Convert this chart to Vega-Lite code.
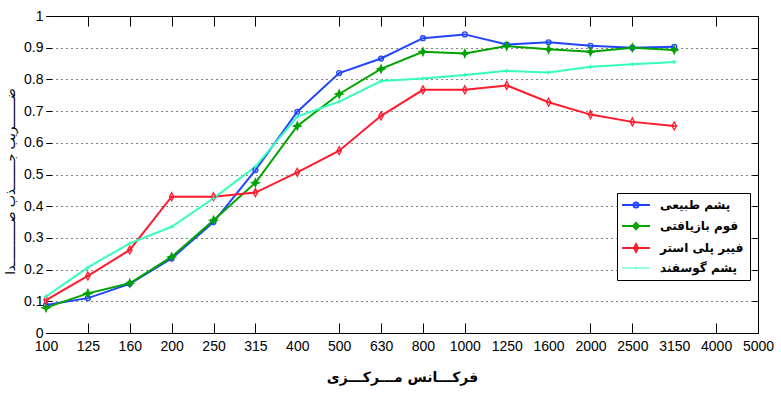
{
  "$schema": "https://vega.github.io/schema/vega-lite/v6.json",
  "width": 712,
  "height": 317,
  "autosize": "none",
  "padding": {"left": 46, "top": 16, "right": 23, "bottom": 64},
  "background": "white",
  "config": {
    "view": {"stroke": null},
    "axis": {"domainColor": "black", "tickColor": "black", "labelColor": "black", "titleColor": "black", "labelFont": "Liberation Sans Narrow, Liberation Sans, sans-serif", "labelFontSize": 14}
  },
  "data": {
    "values": [
      {"f": "100", "s": "پشم طبیعی", "v": 0.088},
      {"f": "125", "s": "پشم طبیعی", "v": 0.11},
      {"f": "160", "s": "پشم طبیعی", "v": 0.155},
      {"f": "200", "s": "پشم طبیعی", "v": 0.235},
      {"f": "250", "s": "پشم طبیعی", "v": 0.35},
      {"f": "315", "s": "پشم طبیعی", "v": 0.514},
      {"f": "400", "s": "پشم طبیعی", "v": 0.698},
      {"f": "500", "s": "پشم طبیعی", "v": 0.82},
      {"f": "630", "s": "پشم طبیعی", "v": 0.866},
      {"f": "800", "s": "پشم طبیعی", "v": 0.93},
      {"f": "1000", "s": "پشم طبیعی", "v": 0.942},
      {"f": "1250", "s": "پشم طبیعی", "v": 0.91},
      {"f": "1600", "s": "پشم طبیعی", "v": 0.917},
      {"f": "2000", "s": "پشم طبیعی", "v": 0.906},
      {"f": "2500", "s": "پشم طبیعی", "v": 0.9},
      {"f": "3150", "s": "پشم طبیعی", "v": 0.903},
      {"f": "100", "s": "فوم بازیافتی", "v": 0.08},
      {"f": "125", "s": "فوم بازیافتی", "v": 0.125},
      {"f": "160", "s": "فوم بازیافتی", "v": 0.157},
      {"f": "200", "s": "فوم بازیافتی", "v": 0.24},
      {"f": "250", "s": "فوم بازیافتی", "v": 0.356},
      {"f": "315", "s": "فوم بازیافتی", "v": 0.474},
      {"f": "400", "s": "فوم بازیافتی", "v": 0.653},
      {"f": "500", "s": "فوم بازیافتی", "v": 0.754},
      {"f": "630", "s": "فوم بازیافتی", "v": 0.833},
      {"f": "800", "s": "فوم بازیافتی", "v": 0.887},
      {"f": "1000", "s": "فوم بازیافتی", "v": 0.882},
      {"f": "1250", "s": "فوم بازیافتی", "v": 0.905},
      {"f": "1600", "s": "فوم بازیافتی", "v": 0.895},
      {"f": "2000", "s": "فوم بازیافتی", "v": 0.887},
      {"f": "2500", "s": "فوم بازیافتی", "v": 0.9},
      {"f": "3150", "s": "فوم بازیافتی", "v": 0.893},
      {"f": "100", "s": "فیبر پلی استر", "v": 0.104},
      {"f": "125", "s": "فیبر پلی استر", "v": 0.18},
      {"f": "160", "s": "فیبر پلی استر", "v": 0.262},
      {"f": "200", "s": "فیبر پلی استر", "v": 0.43},
      {"f": "250", "s": "فیبر پلی استر", "v": 0.43},
      {"f": "315", "s": "فیبر پلی استر", "v": 0.443},
      {"f": "400", "s": "فیبر پلی استر", "v": 0.507},
      {"f": "500", "s": "فیبر پلی استر", "v": 0.575},
      {"f": "630", "s": "فیبر پلی استر", "v": 0.685},
      {"f": "800", "s": "فیبر پلی استر", "v": 0.767},
      {"f": "1000", "s": "فیبر پلی استر", "v": 0.767},
      {"f": "1250", "s": "فیبر پلی استر", "v": 0.781},
      {"f": "1600", "s": "فیبر پلی استر", "v": 0.728},
      {"f": "2000", "s": "فیبر پلی استر", "v": 0.689},
      {"f": "2500", "s": "فیبر پلی استر", "v": 0.666},
      {"f": "3150", "s": "فیبر پلی استر", "v": 0.653},
      {"f": "100", "s": "پشم گوسفند", "v": 0.115},
      {"f": "125", "s": "پشم گوسفند", "v": 0.207},
      {"f": "160", "s": "پشم گوسفند", "v": 0.283},
      {"f": "200", "s": "پشم گوسفند", "v": 0.335},
      {"f": "250", "s": "پشم گوسفند", "v": 0.425},
      {"f": "315", "s": "پشم گوسفند", "v": 0.525},
      {"f": "400", "s": "پشم گوسفند", "v": 0.683},
      {"f": "500", "s": "پشم گوسفند", "v": 0.73},
      {"f": "630", "s": "پشم گوسفند", "v": 0.795},
      {"f": "800", "s": "پشم گوسفند", "v": 0.803},
      {"f": "1000", "s": "پشم گوسفند", "v": 0.814},
      {"f": "1250", "s": "پشم گوسفند", "v": 0.827},
      {"f": "1600", "s": "پشم گوسفند", "v": 0.822},
      {"f": "2000", "s": "پشم گوسفند", "v": 0.84},
      {"f": "2500", "s": "پشم گوسفند", "v": 0.848},
      {"f": "3150", "s": "پشم گوسفند", "v": 0.855}
    ]
  },
  "layer": [
    {
      "mark": {"type": "line", "strokeWidth": 2},
      "encoding": {
        "x": {
          "field": "f", "type": "ordinal",
          "scale": {"type": "point", "padding": 0, "domain": ["100","125","160","200","250","315","400","500","630","800","1000","1250","1600","2000","2500","3150","4000","5000"]},
          "axis": {
            "orient": "bottom", "title": "فرکـــانس مـــرکـــزی", "labelAngle": 0,
            "titleFont": "DejaVu Sans", "titleFontWeight": "bold", "titleFontSize": 14,
            "titleBaseline": "middle", "titleY": 44,
            "tickSize": -10, "labelPadding": 16, "domainWidth": 1, "tickWidth": 1,
            "tickOpacity": {"condition": {"test": "indexof(['125','160','200','250','315','500','630','800','1000','2000','2500','4000'], datum.value) >= 0", "value": 1}, "value": 0},
            "grid": false
          }
        },
        "y": {
          "field": "v", "type": "quantitative",
          "scale": {"domain": [0, 1], "nice": false},
          "axis": {
            "orient": "left", "title": "ضـــــــریب جـــــــذب صـــــــــــدا",
            "values": [0,0.1,0.2,0.3,0.4,0.5,0.6,0.7,0.8,0.9,1], "format": ".1~f",
            "domain": false, "tickSize": -6, "labelPadding": 9,
            "grid": true, "gridColor": "black", "gridDash": [1, 4], "gridOpacity": 1, "gridWidth": 1,
            "titleFont": "DejaVu Sans", "titleFontWeight": "normal", "titleFontSize": 13,
            "titleX": -36, "titleY": 165, "titleBaseline": "middle", "titleAlign": "center", "titleAngle": -90
          }
        },
        "color": {
          "field": "s", "type": "nominal",
          "scale": {"domain": ["پشم طبیعی", "فوم بازیافتی", "فیبر پلی استر", "پشم گوسفند"], "range": ["#2244ff", "#00a300", "#ff1a2e", "#33ffbb"]},
          "legend": {
            "orient": "none", "legendX": 571, "legendY": 177, "title": null,
            "strokeColor": "black", "fillColor": "white", "padding": 6,
            "labelFont": "DejaVu Sans", "labelFontWeight": "bold", "labelFontSize": 12, "labelColor": "black",
            "symbolSize": 196, "symbolStrokeWidth": 2, "rowPadding": 6, "labelOffset": 18, "symbolOffset": 7,
            "symbolType": "M-2,0H2",
            "encode": {
              "symbols": {
                "update": {
                  "shape": {"signal": "datum.value === 'پشم طبیعی' ? 'M-2,0H2M-0.36,0A0.36,0.36,0,1,1,0.36,0A0.36,0.36,0,1,1,-0.36,0Z' : datum.value === 'فوم بازیافتی' ? 'M-2,0H2M0,-0.45L0.4,0L0,0.45L-0.4,0Z' : datum.value === 'فیبر پلی استر' ? 'M-2,0H2M0,-0.55L0.3,0L0,0.55L-0.3,0Z' : 'M-2,0H2M0,-0.2V0.2'"},
                  "fill": {"signal": "datum.value === 'فوم بازیافتی' ? '#00a300' : 'transparent'"},
                  "strokeWidth": {"signal": "datum.value === 'پشم گوسفند' ? 1 : 2"}
                }
              }
            }
          }
        }
      }
    },
    {
      "mark": {"type": "point", "strokeWidth": 1.3, "opacity": 1},
      "encoding": {
        "x": {
          "field": "f", "type": "ordinal",
          "axis": {
            "orient": "top", "title": null, "labels": false, "tickSize": -10, "grid": false,
            "tickOpacity": {"condition": {"test": "indexof(['125','160','200','250','315','500','630','800','1000','2000','2500','4000'], datum.value) >= 0", "value": 1}, "value": 0}
          }
        },
        "y": {
          "field": "v", "type": "quantitative",
          "axis": {"orient": "right", "title": null, "labels": false, "tickSize": -6, "grid": false, "values": [0,0.1,0.2,0.3,0.4,0.5,0.6,0.7,0.8,0.9,1]}
        },
        "stroke": {
          "field": "s", "type": "nominal", "legend": null,
          "scale": {"domain": ["پشم گوسفند", "فیبر پلی استر", "فوم بازیافتی", "پشم طبیعی"], "range": ["#33ffbb", "#ff1a2e", "#00a300", "#2244ff"]}
        },
        "fill": {
          "field": "s", "type": "nominal", "legend": null,
          "scale": {"domain": ["پشم گوسفند", "فیبر پلی استر", "فوم بازیافتی", "پشم طبیعی"], "range": ["#33ffbb", "transparent", "#00a300", "transparent"]}
        },
        "shape": {
          "field": "s", "type": "nominal", "legend": null,
          "scale": {"domain": ["پشم گوسفند", "فیبر پلی استر", "فوم بازیافتی", "پشم طبیعی"], "range": ["M-1,0H1M0,-1V1", "M0,-1L0.55,0L0,1L-0.55,0ZM-0.55,0H0.55", "M0,-1L0.3,-0.3L1,0L0.3,0.3L0,1L-0.3,0.3L-1,0L-0.3,-0.3Z", "circle"]}
        },
        "size": {
          "field": "s", "type": "nominal", "legend": null,
          "scale": {"type": "ordinal", "domain": ["پشم گوسفند", "فیبر پلی استر", "فوم بازیافتی", "پشم طبیعی"], "range": [16, 64, 60, 24]}
        }
      }
    }
  ],
  "resolve": {"axis": {"x": "independent", "y": "independent"}}
}
